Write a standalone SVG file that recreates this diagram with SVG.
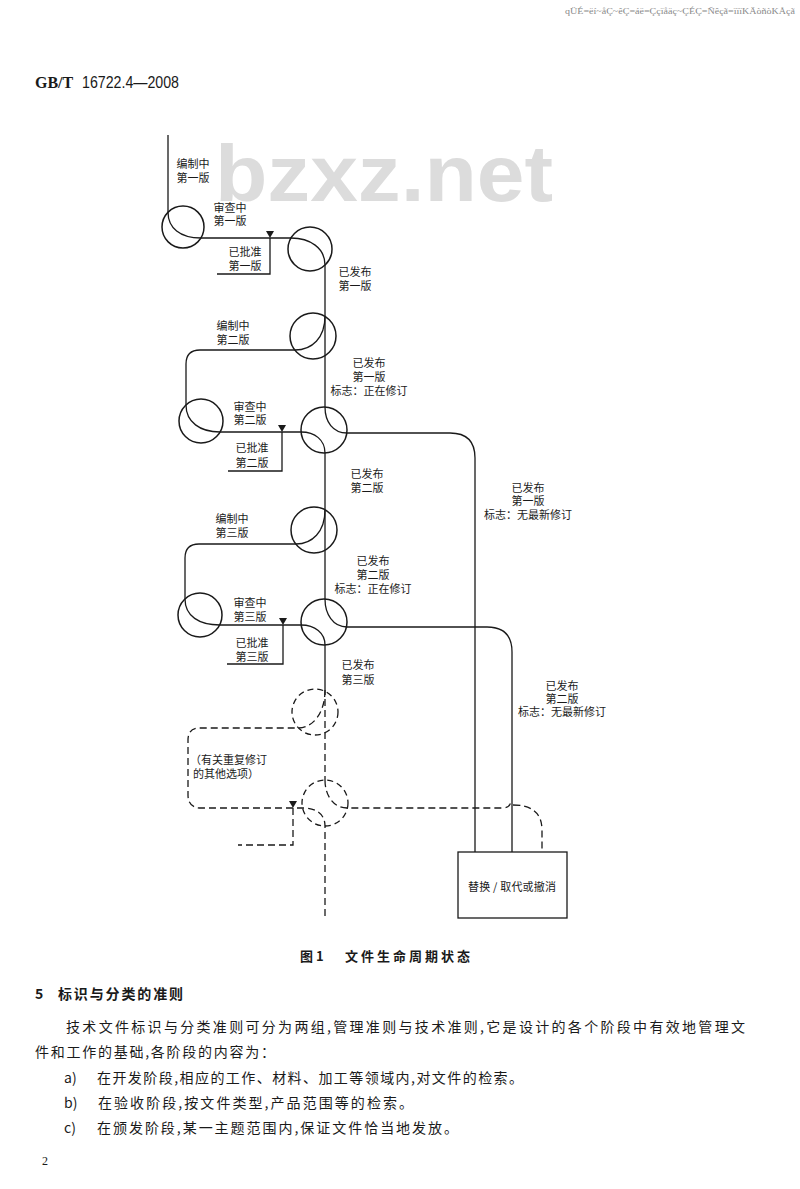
<svg xmlns="http://www.w3.org/2000/svg" width="800" height="1189" viewBox="0 0 800 1189">
<style>
.ln{fill:none;stroke:#1a1a1a;stroke-width:1.3}
.ds{fill:none;stroke:#1a1a1a;stroke-width:1.3;stroke-dasharray:7 4}
.c{fill:none;stroke:#1a1a1a;stroke-width:1.5}
.cd{fill:none;stroke:#1a1a1a;stroke-width:1.3;stroke-dasharray:6 4}
.lb{font-family:"Noto Sans CJK SC",sans-serif;font-size:11px;fill:#1a1a1a;text-anchor:middle}
.lbl{font-family:"Noto Sans CJK SC",sans-serif;font-size:11px;fill:#1a1a1a}
.bd{font-family:"Noto Sans CJK SC",sans-serif;font-size:14px;fill:#1a1a1a}
.tri{fill:#1a1a1a}
</style>
<rect width="800" height="1189" fill="#ffffff"/>
<text x="795" y="14" text-anchor="end" font-family="Liberation Serif,serif" font-size="8" fill="#888" textLength="230" lengthAdjust="spacingAndGlyphs">qÜÉ=ëí~åÇ~êÇ=áë=Ççïåäç~ÇÉÇ=Ñêçã=ïïïKÄòñòKÅçã</text>
<text x="35" y="88" font-family="Liberation Serif,serif" font-weight="bold" font-size="16" fill="#1a1a1a">GB/T</text>
<text x="82" y="88" font-family="Liberation Sans,sans-serif" font-size="16" fill="#1a1a1a" textLength="97" lengthAdjust="spacingAndGlyphs">16722.4—2008</text>
<text x="215" y="201" font-family="Liberation Sans,sans-serif" font-weight="bold" font-size="80" fill="#dcdcdc" textLength="338" lengthAdjust="spacingAndGlyphs">bzxz.net</text>

<g id="connectors">
<path class="ln" d="M168,135 L168,212 C168,228 180,238 201,238 L291,238 C310,238 325,248 325,265 L325,407"/>
<path class="ln" d="M325,316 C325,338 312,350 295,350 L200,350 Q186,350 186,364 L186,405 C186,422 200,432 220,432 L301,432 C315,432 325,440 325,453 L325,599"/>
<path class="ln" d="M325,407 C325,422 333,433 347,433 L450,433 Q475,433 475,458 L475,852"/>
<path class="ln" d="M325,510 C325,532 312,544 296,544 L199,544 Q185,544 185,558 L185,599 C185,616 199,625 220,625 L301,625 C315,625 325,633 325,645 L325,688"/>
<path class="ln" d="M325,599 C325,614 333,627 347,627 L487,627 Q512,627 512,652 L512,852"/>
<path class="ln" d="M270,238 L270,274 L217,274"/>
<path class="ln" d="M282,432 L282,471 L228,471"/>
<path class="ln" d="M283,625 L283,664 L227,664"/>
<path class="tri" d="M266,231 L274,231 L270,238 Z"/>
<path class="tri" d="M278,425 L286,425 L282,432 Z"/>
<path class="tri" d="M279,618 L287,618 L283,625 Z"/>
<path class="ds" d="M325,688 L325,780"/>
<path class="ds" d="M325,690 C325,713 313,728 298,728 L200,728 Q188,728 188,740 L188,795 Q188,808 201,808 L303,808 C316,808 325,814 325,826 L325,917"/>
<path class="ds" d="M325,780 C325,795 333,808 347,808 L503,808 Q510,808 511,801"/>
<path class="ds" d="M513,805 Q542,805 542,830 L542,852"/>
<path class="ds" d="M293,808 L293,845 L238,845"/>
<path class="tri" d="M289,801 L297,801 L293,808 Z"/>
</g>

<g id="n1"><circle class="c" cx="183" cy="227" r="21"/></g>
<g id="n2"><circle class="c" cx="310" cy="249" r="22"/></g>
<g id="n3"><circle class="c" cx="313" cy="336" r="23"/></g>
<g id="n4"><circle class="c" cx="201" cy="421" r="22"/></g>
<g id="n5"><circle class="c" cx="324" cy="430" r="23"/></g>
<g id="n6"><circle class="c" cx="314" cy="530" r="23"/></g>
<g id="n7"><circle class="c" cx="200" cy="615" r="22"/></g>
<g id="n8"><circle class="c" cx="324" cy="622" r="23"/></g>
<g id="n9"><circle class="cd" cx="315" cy="712" r="23"/></g>
<g id="n10"><circle class="cd" cx="325" cy="803" r="23"/></g>
<g id="box"><rect x="458" y="852" width="109" height="66" fill="none" stroke="#1a1a1a" stroke-width="1.3"/>
<text class="lb" x="512" y="891" textLength="88">替换 / 取代或撤消</text></g>

<g id="labels">
<text class="lb" x="193" y="168">编制中</text><text class="lb" x="193" y="182">第一版</text>
<text class="lb" x="230" y="212">审查中</text><text class="lb" x="230" y="225">第一版</text>
<text class="lb" x="245" y="256">已批准</text><text class="lb" x="245" y="270">第一版</text>
<text class="lb" x="355" y="276">已发布</text><text class="lb" x="355" y="290">第一版</text>
<text class="lb" x="233" y="330">编制中</text><text class="lb" x="233" y="344">第二版</text>
<text class="lb" x="369" y="367">已发布</text><text class="lb" x="369" y="381">第一版</text><text class="lb" x="369" y="395">标志：正在修订</text>
<text class="lb" x="250" y="411">审查中</text><text class="lb" x="250" y="424">第二版</text>
<text class="lb" x="252" y="452">已批准</text><text class="lb" x="252" y="467">第二版</text>
<text class="lb" x="367" y="478">已发布</text><text class="lb" x="367" y="492">第二版</text>
<text class="lb" x="528" y="492">已发布</text><text class="lb" x="528" y="505">第一版</text><text class="lb" x="528" y="519">标志：无最新修订</text>
<text class="lb" x="232" y="523">编制中</text><text class="lb" x="232" y="537">第三版</text>
<text class="lb" x="373" y="565">已发布</text><text class="lb" x="373" y="579">第二版</text><text class="lb" x="373" y="593">标志：正在修订</text>
<text class="lb" x="250" y="607">审查中</text><text class="lb" x="250" y="621">第三版</text>
<text class="lb" x="252" y="647">已批准</text><text class="lb" x="252" y="661">第三版</text>
<text class="lb" x="358" y="669">已发布</text><text class="lb" x="358" y="684">第三版</text>
<text class="lb" x="562" y="690">已发布</text><text class="lb" x="562" y="703">第二版</text><text class="lb" x="562" y="716">标志：无最新修订</text>
<text class="lbl" x="190" y="764">（有关重复修订</text><text class="lbl" x="193" y="778">的其他选项）</text>
</g>

<g id="text">
<text font-family="Noto Sans CJK SC,sans-serif" font-weight="bold" font-size="13" fill="#1a1a1a" x="300" y="961">图 1</text>
<text font-family="Noto Sans CJK SC,sans-serif" font-weight="bold" font-size="13" fill="#1a1a1a" x="345" y="961" textLength="125">文件生命周期状态</text>
<text class="bd" x="35" y="999" font-weight="bold">5</text>
<text class="bd" x="58" y="999" font-weight="bold" textLength="125">标识与分类的准则</text>
<text class="bd" x="66" y="1032" textLength="679">技术文件标识与分类准则可分为两组,管理准则与技术准则,它是设计的各个阶段中有效地管理文</text>
<text class="bd" x="35" y="1057" textLength="240">件和工作的基础,各阶段的内容为：</text>
<text class="bd" x="64" y="1083">a)</text>
<text class="bd" x="97" y="1083" textLength="426">在开发阶段,相应的工作、材料、加工等领域内,对文件的检索。</text>
<text class="bd" x="64" y="1108">b)</text>
<text class="bd" x="98" y="1108" textLength="315">在验收阶段,按文件类型,产品范围等的检索。</text>
<text class="bd" x="64" y="1133">c)</text>
<text class="bd" x="97" y="1133" textLength="361">在颁发阶段,某一主题范围内,保证文件恰当地发放。</text>
<text font-family="Liberation Serif,serif" font-size="12" fill="#1a1a1a" x="42" y="1165">2</text>
</g>
</svg>
